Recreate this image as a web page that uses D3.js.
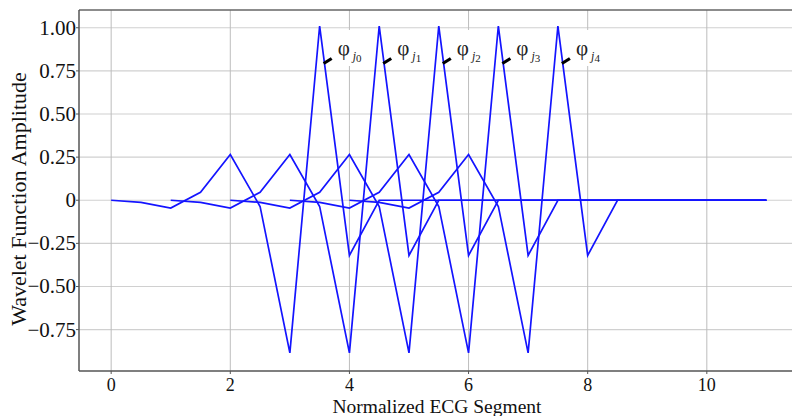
<!DOCTYPE html>
<html>
<head>
<meta charset="utf-8">
<script src="https://cdn.jsdelivr.net/npm/d3@7"></script>
<style>
  body { margin: 0; background: #fff; }
</style>
</head>
<body>
<div id="chart"></div>
<script>
let shapeValues = [0, -0.012, -0.045, 0.046, 0.265, -0.036, -0.885, 1.01, -0.32, 0];
let shapeStep = 0.5;
let shifts = [0, 1, 2, 3, 4];
let seriesEnd = 11;
let subscripts = ['0', '1', '2', '3', '4'];
let xTicks = [0, 2, 4, 6, 8, 10];
let yTicks = [1, 0.75, 0.5, 0.25, 0, -0.25, -0.5, -0.75];
let yTickLabels = ['1.00', '0.75', '0.50', '0.25', '0', '\u22120.25', '\u22120.50', '\u22120.75'];

let W = 792, H = 416;
let mLeft = 79, mTop = 10, mBottom = 371;
let serif = '"Liberation Serif", "Times New Roman", "DejaVu Serif", serif';

let svg = d3.select('#chart').append('svg')
    .attr('width', W).attr('height', H)
    .style('font-family', serif);

let x = d3.scaleLinear().domain([-0.54, 11.43]).range([mLeft, W]);
let y = d3.scaleLinear().domain([-0.99, 1.103]).range([mBottom, mTop]);

// grid
svg.append('g').selectAll('line').data(yTicks).enter().append('line')
    .attr('x1', mLeft).attr('x2', W)
    .attr('y1', d => y(d)).attr('y2', d => y(d))
    .attr('stroke', '#d0d0d0').attr('stroke-width', 1.2);
svg.append('g').selectAll('line').data(xTicks).enter().append('line')
    .attr('x1', d => x(d)).attr('x2', d => x(d))
    .attr('y1', mTop).attr('y2', mBottom)
    .attr('stroke', '#bdbdbd').attr('stroke-width', 1);

// series
let series = shifts.map(function(s) {
    let pts = [];
    for (let i = 0; s + i * shapeStep <= seriesEnd; i++) {
        pts.push({x: s + i * shapeStep, y: i < shapeValues.length ? shapeValues[i] : 0});
    }
    return pts;
});

let line = d3.line().x(d => x(d.x)).y(d => y(d.y));
svg.append('g').selectAll('path').data(series).enter().append('path')
    .attr('d', line)
    .attr('fill', 'none')
    .attr('stroke', '#1414ff')
    .attr('stroke-width', 1.7)
    .attr('stroke-linejoin', 'miter');

// labels
let peakIdx = shapeValues.indexOf(d3.max(shapeValues));
let labels = svg.append('g').selectAll('g').data(shifts).enter().append('g')
    .attr('transform', d => `translate(${x(d + peakIdx * shapeStep)},0)`);

labels.append('rect')
    .attr('x', 15).attr('y', 30).attr('width', 30).attr('height', 36)
    .attr('fill', '#fff');

labels.append('line')
    .attr('x1', 4).attr('y1', 63.5).attr('x2', 12).attr('y2', 58.5)
    .attr('stroke', '#000').attr('stroke-width', 3.2);

let lt = labels.append('text')
    .attr('x', 18).attr('y', 55)
    .attr('fill', '#222')
    .style('font-size', '21px');
lt.append('tspan').text('\u03c6');
lt.append('tspan').attr('dx', 3).attr('dy', 5)
    .style('font-size', '12px').style('font-style', 'italic').text('j');
lt.append('tspan').attr('dy', 2)
    .style('font-size', '11px').text((d, i) => subscripts[i]);

// axes frame
svg.append('line').attr('x1', mLeft).attr('x2', W).attr('y1', mTop).attr('y2', mTop)
    .attr('stroke', '#666').attr('stroke-width', 1.5);
svg.append('line').attr('x1', mLeft).attr('x2', W).attr('y1', mBottom).attr('y2', mBottom)
    .attr('stroke', '#555').attr('stroke-width', 1.5);
svg.append('line').attr('x1', mLeft).attr('x2', mLeft).attr('y1', mTop).attr('y2', mBottom)
    .attr('stroke', '#555').attr('stroke-width', 1.5);

// ticks
svg.append('g').selectAll('line').data(yTicks).enter().append('line')
    .attr('x1', mLeft - 3).attr('x2', mLeft)
    .attr('y1', d => y(d)).attr('y2', d => y(d))
    .attr('stroke', '#555');
svg.append('g').selectAll('text').data(yTicks).enter().append('text')
    .attr('x', mLeft - 3).attr('y', d => y(d) + 7)
    .attr('text-anchor', 'end')
    .style('font-size', '21px')
    .attr('fill', '#111')
    .text((d, i) => yTickLabels[i]);

svg.append('g').selectAll('line').data(xTicks).enter().append('line')
    .attr('x1', d => x(d)).attr('x2', d => x(d))
    .attr('y1', mBottom).attr('y2', mBottom + 3)
    .attr('stroke', '#555');
svg.append('g').selectAll('text').data(xTicks).enter().append('text')
    .attr('x', d => x(d)).attr('y', 391)
    .attr('text-anchor', 'middle')
    .style('font-size', '18px')
    .attr('fill', '#111')
    .text(d => d);

svg.append('text')
    .attr('x', 437).attr('y', 413)
    .attr('text-anchor', 'middle')
    .style('font-size', '19.5px')
    .attr('fill', '#111')
    .text('Normalized ECG Segment');

svg.append('text')
    .attr('transform', 'translate(25.5,199) rotate(-90)')
    .attr('text-anchor', 'middle')
    .style('font-size', '22px')
    .attr('fill', '#111')
    .text('Wavelet Function Amplitude');
</script>
</body>
</html>
